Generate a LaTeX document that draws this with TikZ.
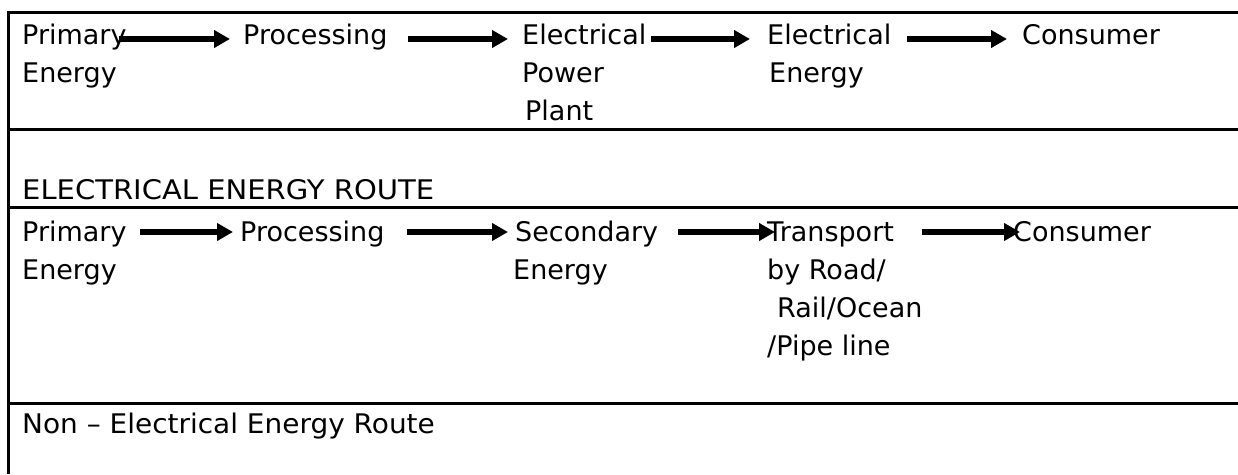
\documentclass[tikz,border=0pt]{standalone}
\usepackage{fontspec}
\usepackage{graphicx}
\setmainfont{DejaVu Sans}
\usetikzlibrary{arrows.meta}
\begin{document}
\begin{tikzpicture}[x=1pt,y=-1pt,
  txt/.style={anchor=base west,inner sep=0pt,font=\fontsize{27}{38}\selectfont},
  rule/.style={line width=3pt},
  flow/.style={line width=6pt,-{Triangle[length=16pt,width=17pt]}}]
\useasboundingbox (0,0) rectangle (1238,474);
% table rules
\draw[rule] (8,474) -- (8,12) -- (1238,12);
\draw[rule] (8,129) -- (1238,129);
\draw[rule] (8,207) -- (1238,207);
\draw[rule] (8,403) -- (1238,403);
% row 1
\node[txt] (p1) at (22,44) {Primary};
\node[txt] (p1b) at (22,82) {Energy};
\node[txt] (pr1) at (243,44) {Processing};
\node[txt] (e1) at (522,44) {Electrical};
\node[txt] (e1b) at (522,82) {Power};
\node[txt] (e1c) at (525,120) {Plant};
\node[txt] (ee1) at (767,44) {Electrical};
\node[txt] (ee1b) at (769,82) {Energy};
\node[txt] (c1) at (1022,44) {Consumer};
\draw[flow] ([xshift=97pt,yshift=5pt]p1.base west) -- ([xshift=-13pt,yshift=5pt]pr1.base west);
\draw[flow] ([xshift=165pt,yshift=5pt]pr1.base west) -- ([xshift=-14pt,yshift=5pt]e1.base west);
\draw[flow] ([xshift=129pt,yshift=5pt]e1.base west) -- ([xshift=-17pt,yshift=5pt]ee1.base west);
\draw[flow] ([xshift=140pt,yshift=5pt]ee1.base west) -- ([xshift=-15pt,yshift=5pt]c1.base west);
% heading 1
\node[txt] (h1) at (22,199) {\scalebox{1.075}[1]{ELECTRICAL ENERGY ROUTE}};
% row 2
\node[txt] (p2) at (22,241) {Primary};
\node[txt] (p2b) at (22,279) {Energy};
\node[txt] (pr2) at (240,241) {Processing};
\node[txt] (s2) at (515,241) {Secondary};
\node[txt] (s2b) at (513,279) {Energy};
\node[txt] (t2) at (767,241) {Transport};
\node[txt] (t2b) at (767,279) {by Road/};
\node[txt] (t2c) at (777,317) {Rail/Ocean};
\node[txt] (t2d) at (767,355) {/Pipe line};
\node[txt] (c2) at (1013,241) {Consumer};
\draw[flow] ([xshift=118pt,yshift=9pt]p2.base west) -- ([xshift=-7pt,yshift=9pt]pr2.base west);
\draw[flow] ([xshift=167pt,yshift=9pt]pr2.base west) -- ([xshift=-7pt,yshift=9pt]s2.base west);
\draw[flow] ([xshift=163pt,yshift=9pt]s2.base west) -- ([xshift=8pt,yshift=9pt]t2.base west);
\draw[flow] ([xshift=155pt,yshift=9pt]t2.base west) -- ([xshift=7pt,yshift=9pt]c2.base west);
% heading 2
\node[txt] (h2) at (22,433) {\scalebox{1.035}[1]{Non – Electrical Energy Route}};
\end{tikzpicture}
\end{document}
